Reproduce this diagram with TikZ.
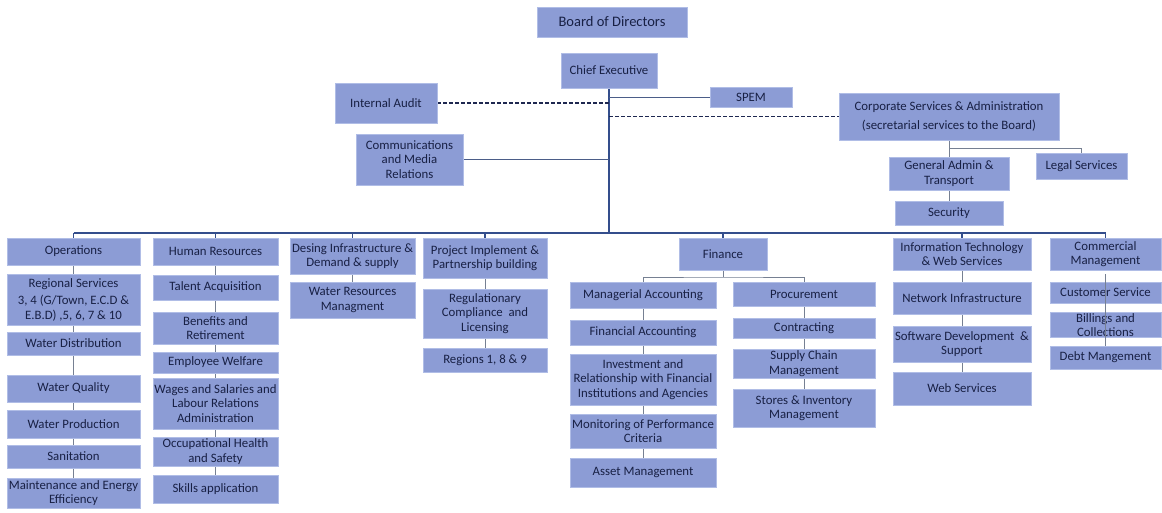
\documentclass[tikz,border=0pt]{standalone}
\usepackage{fontspec}
\setmainfont{Carlito}
\usetikzlibrary{backgrounds}

\definecolor{boxfill}{RGB}{140,156,213}
\definecolor{boxedge}{RGB}{176,189,230}
\definecolor{ink}{RGB}{24,32,68}
\definecolor{busblue}{RGB}{52,78,140}
\definecolor{linkgray}{RGB}{118,128,146}
\definecolor{dashnavy}{RGB}{30,40,80}

\tikzset{
  unitbox/.style={draw=boxedge, line width=0.8pt, fill=boxfill, text=ink,
    align=center, inner sep=1pt, font=\fontsize{12.8}{14.5}\selectfont},
  busline/.style={draw=busblue, line width=1.4pt},
  linkline/.style={draw=linkgray, line width=0.9pt},
  dashlink/.style={draw=dashnavy, line width=1.2pt, dash pattern=on 4pt off 2pt},
}

\begin{document}
\begin{tikzpicture}[x=1pt,y=-1pt]
\useasboundingbox (0,0) rectangle (1162,512);

% ---- top management ----
\node[unitbox, minimum width=150, minimum height=30, font=\fontsize{14.5}{16}\selectfont] (board) at (612,22) {Board of Directors};
\node[unitbox, minimum width=96, minimum height=35] (ce) at (609,70.5) {Chief Executive};
\node[unitbox, minimum width=102, minimum height=40] (audit) at (386,103) {Internal Audit};
\node[unitbox, minimum width=82, minimum height=20] (spem) at (751,97) {SPEM};
\node[unitbox, minimum width=107, minimum height=51] (comms) at (409.5,159.5) {Communications\\and Media\\Relations};
\node[unitbox, minimum width=220, minimum height=47] (corp) at (949,116.5) {Corporate Services \& Administration\\[5pt](secretarial services to the Board)};
\node[unitbox, minimum width=120, minimum height=33] (genadmin) at (949,173.5) {General Admin \&\\Transport};
\node[unitbox, minimum width=91, minimum height=26] (legal) at (1081.5,166) {Legal Services};
\node[unitbox, minimum width=108, minimum height=24] (security) at (949,213) {Security};

% ---- Operations ----
\node[unitbox, minimum width=133, minimum height=27] (ops) at (73.5,251.5) {Operations};
\node[unitbox, minimum width=133, minimum height=51] (regional) at (73.5,299.5) {Regional Services\\[3pt]3, 4 (G/Town, E.C.D \&\\E.B.D) ,5, 6, 7 \& 10};
\node[unitbox, minimum width=133, minimum height=23] (wdist) at (73.5,343.5) {Water Distribution};
\node[unitbox, minimum width=133, minimum height=27] (wqual) at (73.5,388.5) {Water Quality};
\node[unitbox, minimum width=133, minimum height=28] (wprod) at (73.5,424) {Water Production};
\node[unitbox, minimum width=133, minimum height=23] (sanit) at (73.5,456.5) {Sanitation};
\node[unitbox, minimum width=133, minimum height=30] (maint) at (73.5,493) {Maintenance and Energy\\Efficiency};

% ---- Human Resources ----
\node[unitbox, minimum width=125, minimum height=27] (hr) at (215.5,251.5) {Human Resources};
\node[unitbox, minimum width=125, minimum height=25] (talent) at (215.5,287.5) {Talent Acquisition};
\node[unitbox, minimum width=125, minimum height=32] (benefits) at (215.5,328) {Benefits and\\Retirement};
\node[unitbox, minimum width=125, minimum height=21] (welfare) at (215.5,362.5) {Employee Welfare};
\node[unitbox, minimum width=125, minimum height=51] (wages) at (215.5,403.5) {Wages and Salaries and\\Labour Relations\\Administration};
\node[unitbox, minimum width=125, minimum height=29] (ohs) at (215.5,451.5) {Occupational Health\\and Safety};
\node[unitbox, minimum width=125, minimum height=28] (skills) at (215.5,489) {Skills application};

% ---- Design ----
\node[unitbox, minimum width=125, minimum height=36] (design) at (352.5,256) {Desing Infrastructure \&\\Demand \& supply};
\node[unitbox, minimum width=125, minimum height=36] (wres) at (352.5,300) {Water Resources\\Managment};

% ---- Projects ----
\node[unitbox, minimum width=124, minimum height=40] (project) at (485,258) {Project Implement \&\\Partnership building};
\node[unitbox, minimum width=124, minimum height=49] (regul) at (485,313.5) {Regulationary\\Compliance\ \ and\\Licensing};
\node[unitbox, minimum width=124, minimum height=24] (regions) at (485,360) {Regions 1, 8 \& 9};

% ---- Finance ----
\node[unitbox, minimum width=88, minimum height=32] (finance) at (723,254) {Finance};
\node[unitbox, minimum width=146, minimum height=26] (manacc) at (643,295) {Managerial Accounting};
\node[unitbox, minimum width=146, minimum height=25] (finacc) at (643,332.5) {Financial Accounting};
\node[unitbox, minimum width=146, minimum height=51] (invest) at (643,379.5) {Investment and\\Relationship with Financial\\Institutions and Agencies};
\node[unitbox, minimum width=146, minimum height=34] (monitor) at (643,431) {Monitoring of Performance\\Criteria};
\node[unitbox, minimum width=146, minimum height=29] (asset) at (643,472.5) {Asset Management};
\node[unitbox, minimum width=142, minimum height=24] (procure) at (804,294) {Procurement};
\node[unitbox, minimum width=142, minimum height=20] (contract) at (804,328) {Contracting};
\node[unitbox, minimum width=142, minimum height=29] (supply) at (804,363.5) {Supply Chain\\Management};
\node[unitbox, minimum width=142, minimum height=38] (stores) at (804,408) {Stores \& Inventory\\Management};

% ---- IT ----
\node[unitbox, minimum width=138, minimum height=32] (it) at (962,254) {Information Technology\\\& Web Services};
\node[unitbox, minimum width=138, minimum height=32] (network) at (962,298) {Network Infrastructure};
\node[unitbox, minimum width=138, minimum height=36] (software) at (962,344) {Software Development\ \ \&\\Support};
\node[unitbox, minimum width=138, minimum height=33] (web) at (962,388.5) {Web Services};

% ---- Commercial ----
\node[unitbox, minimum width=111, minimum height=32] (commercial) at (1105.5,254) {Commercial\\Management};
\node[unitbox, minimum width=111, minimum height=21] (customer) at (1105.5,292.5) {Customer Service};
\node[unitbox, minimum width=111, minimum height=24] (billing) at (1105.5,325) {Billings and\\Collections};
\node[unitbox, minimum width=111, minimum height=23] (debt) at (1105.5,357.5) {Debt Mangement};

% branch points
\coordinate (busL) at (73.5,233);
\coordinate (busR) at (1105.5,233);
\coordinate (finsplit) at (723,277);
\coordinate (corpsplit) at (949,148);

\begin{scope}[on background layer]
  \fill[white] (0,0) rectangle (1162,512);
  % main bus and chief executive spine
  \draw[busline] (ce.south) -- (ce.south |- busL);
  \draw[busline] (busL) -- (busR);
  \foreach \d in {ops,hr,design,project,finance,it,commercial}
    \draw[busline] (\d.north) -- (\d.north |- busL);
  % staff units
  \draw[dashlink] (audit.east) -- (audit.east -| ce.south);
  \draw[dashlink] (corp.west -| ce.south) -- (corp.west);
  \draw[linkline, draw=busblue!70!gray] (spem.west -| ce.south) -- (spem.west);
  \draw[linkline, draw=busblue!70!gray] (comms.east) -- (comms.east -| ce.south);
  % corporate services
  \draw[linkline] (corp.south) -- (genadmin.north);
  \draw[linkline] (corpsplit) -| (legal.north);
  \draw[linkline] (genadmin.south) -- (security.north);
  % department chains
  \draw[linkline] (ops.south) -- (regional.north) (regional.south) -- (wdist.north)
    (wdist.south) -- (wqual.north) (wqual.south) -- (wprod.north)
    (wprod.south) -- (sanit.north) (sanit.south) -- (maint.north);
  \draw[linkline] (hr.south) -- (talent.north) (talent.south) -- (benefits.north)
    (benefits.south) -- (welfare.north) (welfare.south) -- (wages.north)
    (wages.south) -- (ohs.north) (ohs.south) -- (skills.north);
  \draw[linkline] (design.south) -- (wres.north);
  \draw[linkline] (project.south) -- (regul.north) (regul.south) -- (regions.north);
  \draw[linkline] (finance.south) -- (finsplit);
  \draw[linkline] (manacc.north) |- (finsplit) -| (procure.north);
  \draw[linkline] (manacc.south) -- (finacc.north) (finacc.south) -- (invest.north)
    (invest.south) -- (monitor.north) (monitor.south) -- (asset.north);
  \draw[linkline] (procure.south) -- (contract.north) (contract.south) -- (supply.north)
    (supply.south) -- (stores.north);
  \draw[linkline] (it.south) -- (network.north) (network.south) -- (software.north)
    (software.south) -- (web.north);
\end{scope}

% commercial chain runs over its boxes
\draw[linkline] ([yshift=-4pt]commercial.south) -- (debt.north);
\end{tikzpicture}
\end{document}
